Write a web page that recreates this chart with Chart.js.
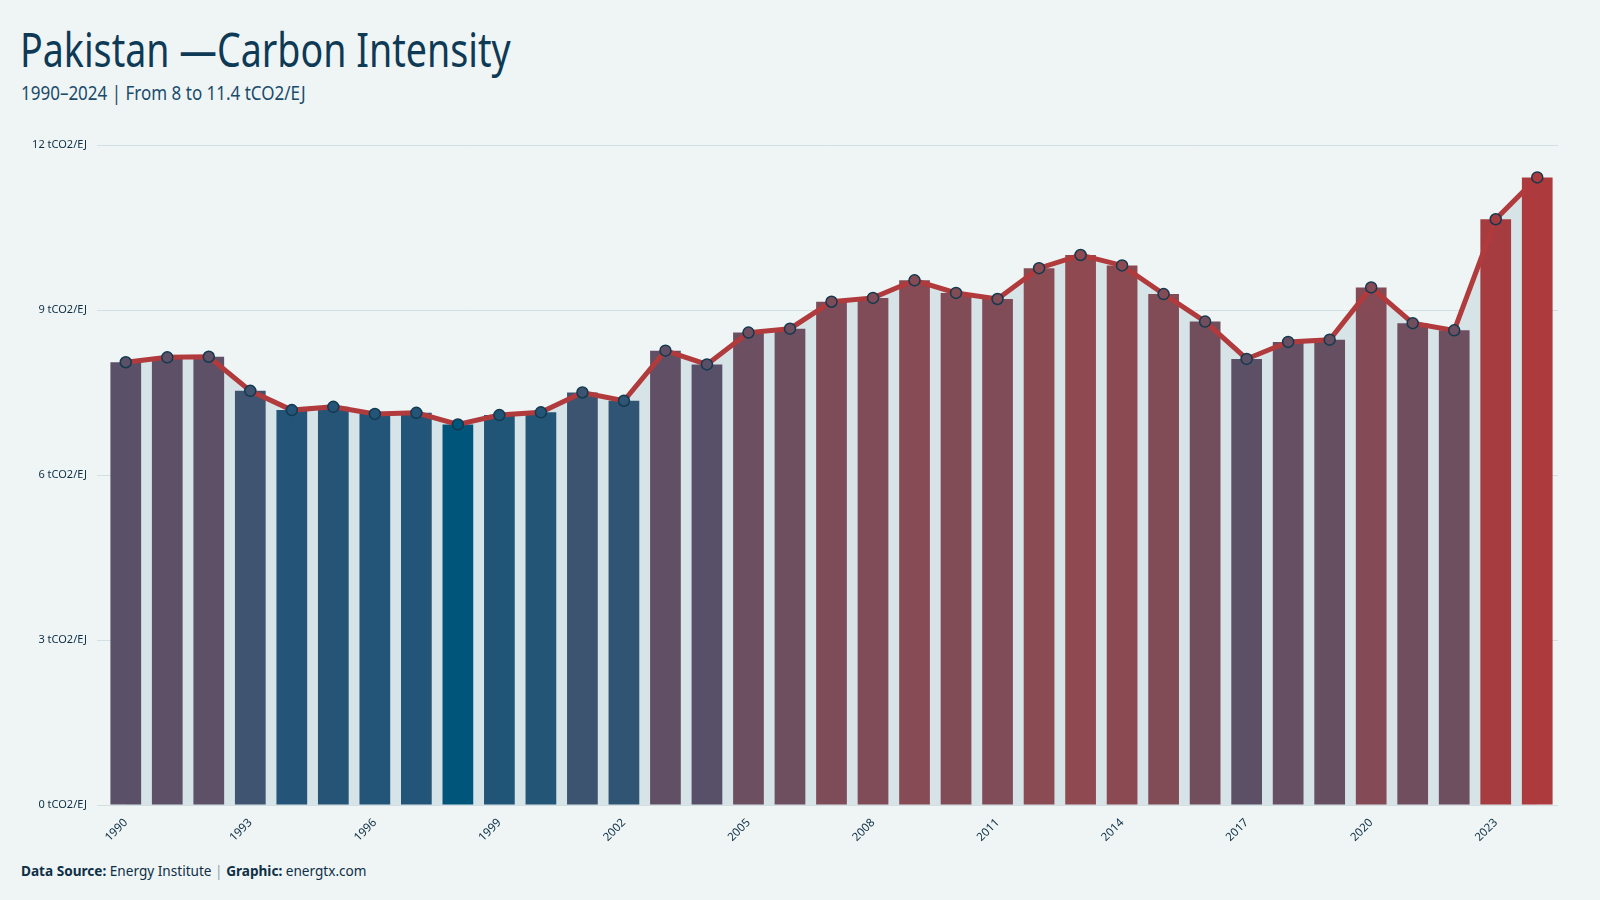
<!DOCTYPE html>
<html>
<head>
<meta charset="utf-8">
<script src="https://cdn.jsdelivr.net/npm/chart.js@4"></script>
<style>
  html, body { margin: 0; padding: 0; background: #eff5f5; }
  body { width: 1600px; height: 900px; position: relative; overflow: hidden; }
  #title { position: absolute; left: 20px; top: 17px; font-family: 'Noto Sans', sans-serif; font-size: 47px; color: #0e3a55; white-space: nowrap; transform: scaleX(0.80); transform-origin: left top; }
  #subtitle { position: absolute; left: 21px; top: 79px; font-family: 'Noto Sans', sans-serif; font-size: 20px; color: #1a4b6b; white-space: nowrap; transform: scaleX(0.85); transform-origin: left top; }
  #footer { position: absolute; left: 21px; top: 861px; font-family: 'Noto Sans', sans-serif; font-size: 13.6px; color: #0e2f45; white-space: nowrap; }
  #footer b { font-weight: 700; }
  #footer .sep { color: #8aa0ad; }
  #wrap { position: absolute; left: 0; top: 120px; width: 1600px; height: 725px; }
</style>
</head>
<body>
<div id="title">Pakistan —Carbon Intensity</div>
<div id="subtitle">1990–2024 | From 8 to 11.4 tCO2/EJ</div>
<div id="wrap"><canvas id="c"></canvas></div>
<div id="footer"><b>Data Source:</b> Energy Institute <span class="sep">|</span> <b>Graphic:</b> energtx.com</div>
<script>
const years = ['1990','1991','1992','1993','1994','1995','1996','1997','1998','1999','2000','2001','2002','2003','2004','2005','2006','2007','2008','2009','2010','2011','2012','2013','2014','2015','2016','2017','2018','2019','2020','2021','2022','2023','2024'];
const intensity = [8.05,8.14,8.15,7.53,7.18,7.24,7.11,7.13,6.92,7.09,7.14,7.50,7.35,8.26,8.01,8.59,8.66,9.15,9.22,9.54,9.31,9.20,9.76,10.00,9.81,9.29,8.79,8.11,8.42,8.46,9.41,8.76,8.63,10.65,11.41];
const yTicks = [0, 3, 6, 9, 12];
const unit = 'tCO2/EJ';

// colour scale stops (value -> colour)
const colorStops = [
  [6.92, [0, 85, 122]],
  [7.05, [32, 85, 120]],
  [7.25, [38, 84, 118]],
  [7.5, [60, 84, 112]],
  [8.05, [90, 80, 104]],
  [8.6, [108, 79, 96]],
  [9.2, [128, 76, 88]],
  [10.0, [142, 74, 80]],
  [10.65, [166, 60, 64]],
  [11.41, [173, 58, 60]]
];
function colorFor(v) {
  if (v <= colorStops[0][0]) return 'rgb(' + colorStops[0][1].join(',') + ')';
  for (let i = 1; i < colorStops.length; i++) {
    const [v1, c1] = colorStops[i];
    const [v0, c0] = colorStops[i - 1];
    if (v <= v1) {
      const t = (v - v0) / (v1 - v0);
      const c = c0.map((x, k) => Math.round(x + (c1[k] - x) * t));
      return 'rgb(' + c.join(',') + ')';
    }
  }
  return 'rgb(' + colorStops[colorStops.length - 1][1].join(',') + ')';
}
const barColors = intensity.map(colorFor);

new Chart(document.getElementById('c'), {
  data: {
    labels: years,
    datasets: [
      {
        type: 'line',
        data: intensity,
        order: 0,
        borderColor: '#b03a3c',
        borderWidth: 5,
        tension: 0,
        fill: 'origin',
        backgroundColor: '#d6e3e7',
        pointRadius: 5.5,
        pointBackgroundColor: barColors,
        pointBorderColor: '#13394f',
        pointBorderWidth: 1.5
      },
      {
        type: 'bar',
        data: intensity,
        order: 1,
        backgroundColor: barColors,
        barPercentage: 0.74,
        categoryPercentage: 1.0
      }
    ]
  },
  options: {
    responsive: true,
    maintainAspectRatio: false,
    animation: false,
    events: [],
    layout: { padding: { top: 25, right: 42, left: 0, bottom: 0 } },
    plugins: {
      legend: { display: false },
      tooltip: { enabled: false },
      filler: { drawTime: 'beforeDatasetsDraw' }
    },
    scales: {
      x: {
        grid: { display: false },
        border: { display: false },
        afterFit: s => { s.height = 40; },
        ticks: {
          autoSkip: false,
          minRotation: 45,
          maxRotation: 45,
          color: '#0e2f45',
          font: { family: 'Noto Sans', size: 11.5 },
          callback: function (v, i) { return i % 3 === 0 ? years[i] : ''; }
        }
      },
      y: {
        min: 0,
        max: 12,
        afterBuildTicks: s => { s.ticks = yTicks.map(v => ({ value: v })); },
        afterFit: s => { s.width = 105; },
        border: { display: false },
        grid: { color: '#d3dfe2', lineWidth: 1, tickLength: 8 },
        ticks: {
          color: '#0e2f45',
          padding: 10,
          font: { family: 'Noto Sans', size: 11 },
          callback: v => v + ' ' + unit
        }
      }
    }
  }
});
</script>
</body>
</html>
